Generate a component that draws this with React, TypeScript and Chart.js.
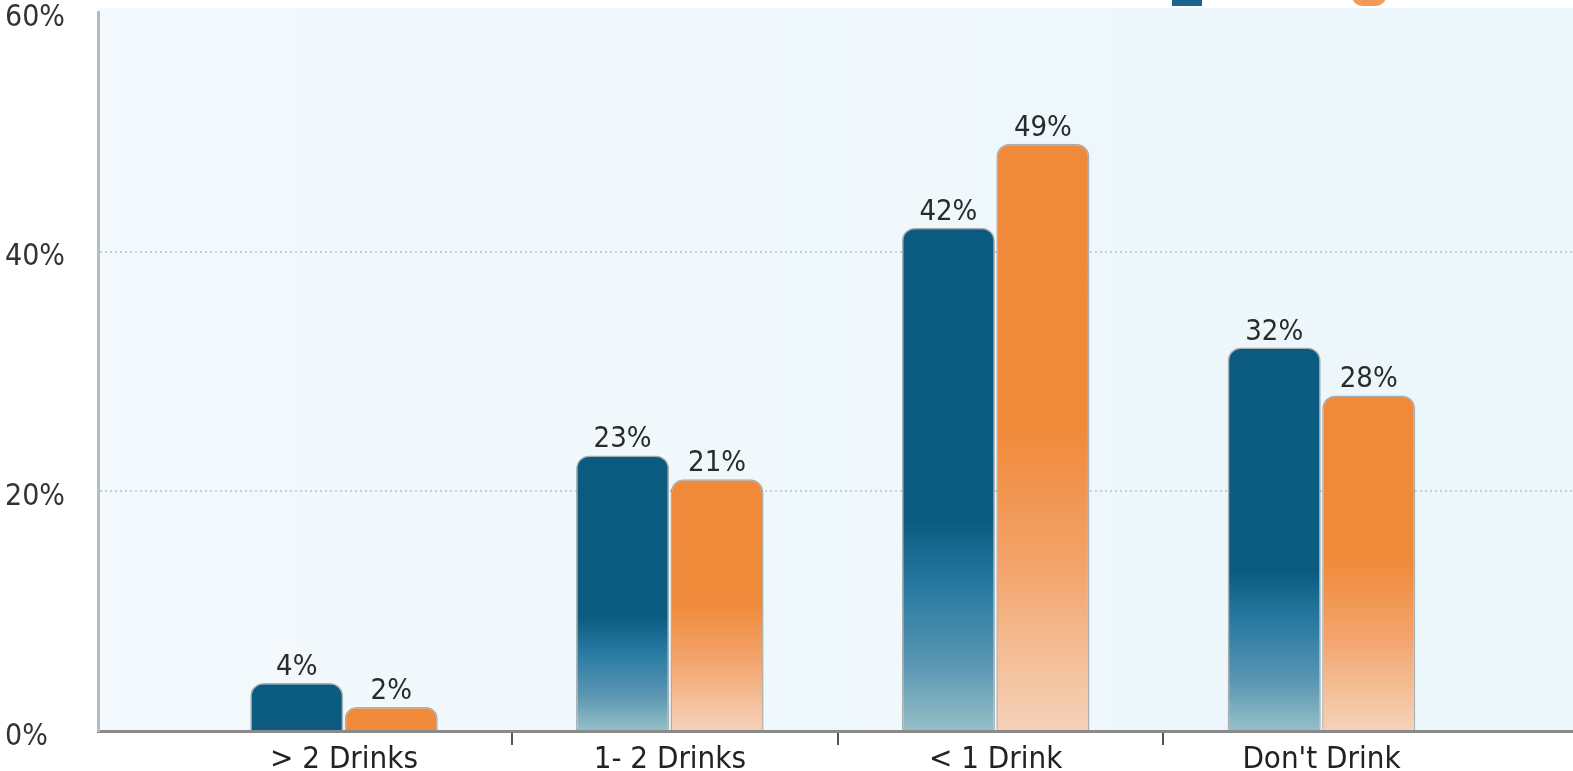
import React, { useEffect, useRef } from 'react';
import { Chart, registerables } from 'chart.js';

Chart.register(...registerables);

// ---- data ----
const categories = ['> 2 Drinks', '1- 2 Drinks', '< 1 Drink', "Don't Drink"];
const seriesNames = ['Males', 'Females'];
const malesValues = [4, 23, 42, 32];
const femalesValues = [2, 21, 49, 28];
const yTickValues = [0, 20, 40, 60];
const categoryTickMarks = [0.515, 1.515, 2.515];

const FONT = "'DejaVu Sans Condensed', 'DejaVu Sans', sans-serif";
const solidColors = ['#0b5a80', '#f08a3a'];
const legendColors = ['#1a6590', '#f29a58'];

function makeFill(ctx: any, si: number) {
  const chart = ctx.chart;
  if (!chart.chartArea || ctx.type !== 'data' || !ctx.raw) return solidColors[si];
  const ys = chart.scales.y;
  const top = ys.getPixelForValue(ctx.raw.y);
  const bot = ys.getPixelForValue(0);
  if (bot - top < 80) return solidColors[si];
  const g = chart.ctx.createLinearGradient(0, top, 0, bot);
  if (si === 0) {
    g.addColorStop(0, '#0b5a80');
    g.addColorStop(0.58, '#0b5a80');
    g.addColorStop(0.72, '#2a7ba3');
    g.addColorStop(0.87, '#5a96b2');
    g.addColorStop(1, '#96c0c8');
  } else {
    g.addColorStop(0, '#f08a3a');
    g.addColorStop(0.5, '#f08b3c');
    g.addColorStop(0.72, '#f3a46c');
    g.addColorStop(0.88, '#f4bf98');
    g.addColorStop(1, '#f6d2ba');
  }
  return g;
}

const backgroundPlugin = {
  id: 'plotBg',
  beforeDraw(chart: any) {
    const { ctx, chartArea: a } = chart;
    ctx.save();
    const g = ctx.createLinearGradient(a.left, 0, a.right, 0);
    g.addColorStop(0, '#f3f9fc');
    g.addColorStop(1, '#ecf7fb');
    ctx.fillStyle = g;
    ctx.fillRect(a.left, a.top - 4, a.right - a.left, a.bottom - a.top + 4);
    ctx.restore();
  },
};

const valueLabelPlugin = {
  id: 'valueLabels',
  afterDatasetsDraw(chart: any) {
    const { ctx } = chart;
    ctx.save();
    ctx.font = `29px ${FONT}`;
    ctx.fillStyle = '#2a2a2a';
    ctx.textAlign = 'center';
    ctx.textBaseline = 'alphabetic';
    chart.data.datasets.forEach((ds: any, di: number) => {
      const meta = chart.getDatasetMeta(di);
      meta.data.forEach((bar: any, i: number) => {
        ctx.fillText(`${ds.data[i].y}%`, bar.x, bar.y - 8);
      });
    });
    ctx.restore();
  },
};

const legendPlugin = {
  id: 'topLegend',
  afterDraw(chart: any) {
    const { ctx, chartArea } = chart;
    ctx.save();
    ctx.font = `30px ${FONT}`;
    ctx.textBaseline = 'middle';
    ctx.textAlign = 'left';
    const cy = -9;
    const startX = chartArea.right - 401;
    const slot = 180;
    chart.data.datasets.forEach((d: any, i: number) => {
      const bx = startX + i * slot;
      ctx.fillStyle = legendColors[i];
      ctx.beginPath();
      if (i === 1) {
        ctx.roundRect(bx, -14, 34, 20, 10);
      } else {
        ctx.rect(bx, -14, 30, 20);
      }
      ctx.fill();
      ctx.fillStyle = '#a0a0a0';
      ctx.fillText(d.label, bx + (i === 1 ? 48 : 35), cy);
    });
    ctx.restore();
  },
};

export default function App() {
  const ref = useRef<HTMLCanvasElement | null>(null);

  useEffect(() => {
    if (!ref.current) return;
    const seriesValues = [malesValues, femalesValues];
    const chart = new Chart(ref.current, {
      type: 'bar',
      data: {
        datasets: seriesNames.map((name, si) => ({
          label: name,
          data: seriesValues[si].map((v, i) => ({ x: i, y: v })),
          backgroundColor: (c: any) => makeFill(c, si),
          borderColor: 'rgba(100,100,100,0.5)',
          borderWidth: 1.5,
          borderSkipped: 'bottom',
          borderRadius: { topLeft: 13, topRight: 13, bottomLeft: 0, bottomRight: 0 },
          categoryPercentage: 0.58,
          barPercentage: 0.985,
        })),
      } as any,
      options: {
        animation: false,
        responsive: false,
        devicePixelRatio: 1,
        layout: { padding: { left: 5, top: 12, right: 0, bottom: 0 } },
        plugins: { legend: { display: false }, tooltip: { enabled: false } },
        scales: {
          x: {
            type: 'linear',
            min: -0.755,
            max: 3.772,
            offset: false,
            weight: 1,
            afterBuildTicks: (s: any) => {
              s.ticks = categories.map((_, i) => ({ value: i }));
            },
            afterFit: (s: any) => {
              s.height = 40;
              s.paddingLeft = 0;
              s.paddingRight = 0;
            },
            ticks: {
              autoSkip: false,
              maxRotation: 0,
              padding: 10,
              color: '#222',
              font: { family: FONT, size: 31 },
              callback: (v: any) => (Number.isInteger(v) ? categories[v] : ''),
            },
            grid: { offset: false, display: false, drawTicks: false },
            border: { display: true, color: '#8a8a8a', width: 3 },
          },
          xMarks: {
            type: 'linear',
            position: 'bottom',
            min: -0.755,
            max: 3.772,
            offset: false,
            weight: 0,
            afterBuildTicks: (s: any) => {
              s.ticks = categoryTickMarks.map((v) => ({ value: v }));
            },
            afterFit: (s: any) => {
              s.height = 0;
              s.paddingLeft = 0;
              s.paddingRight = 0;
            },
            ticks: { display: false },
            grid: {
              offset: false,
              drawOnChartArea: false,
              drawTicks: true,
              tickLength: 14,
              lineWidth: 2,
              color: '#555',
            },
            border: { display: false },
          },
          y: {
            min: 0,
            max: 60,
            afterBuildTicks: (s: any) => {
              s.ticks = yTickValues.map((v) => ({ value: v }));
            },
            afterFit: (s: any) => {
              s.width = 93;
              s.paddingTop = 0;
              s.paddingBottom = 0;
            },
            ticks: {
              crossAlign: 'far',
              padding: 0,
              labelOffset: 6,
              color: '#333',
              font: { family: FONT, size: 30 },
              callback: (v: any) => `${v}%`,
            },
            grid: {
              drawTicks: false,
              lineWidth: 2,
              color: (c: any) => (c.tick && (c.tick.value === 20 || c.tick.value === 40) ? '#c5ced5' : 'rgba(0,0,0,0)'),
            },
            border: { display: true, color: '#b4bcc4', width: 3, dash: [2, 3] },
          },
        },
      } as any,
      plugins: [backgroundPlugin, valueLabelPlugin, legendPlugin],
    });
    return () => chart.destroy();
  }, []);

  return (
    <div style={{ position: 'absolute', left: 0, top: 0, width: 1573, height: 771, background: '#fff' }}>
      <canvas ref={ref} width={1573} height={771} style={{ display: 'block' }} />
    </div>
  );
}
